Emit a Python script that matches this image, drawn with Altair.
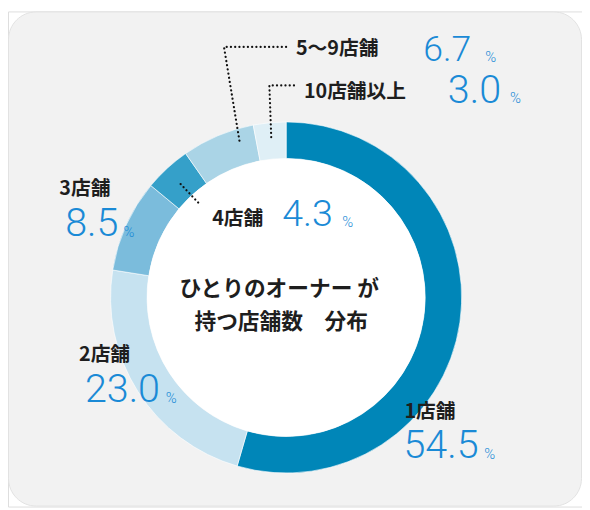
import math
import altair as alt
import pandas as pd

# ---- data ----
categories = ["1店舗", "2店舗", "3店舗", "4店舗", "5〜9店舗", "10店舗以上"]
shares = [54.5, 23.0, 8.5, 4.3, 6.7, 3.0]
colors = ["#0086b8", "#c6e2f0", "#7bbcdc", "#35a0c9", "#aad4e6", "#dfeff6"]
center_title = ["ひとりのオーナー が", "持つ店舗数　分布"]

# ---- layout (svg pixel positions, page minus 8px margin) ----
W, H = 582, 502
CX, CY = 282, 290
R_OUT, R_IN = 178, 141
label_pos = [(402, 406), (72, 348), (52, 180), (207, 211), (292, 38), (300, 82)]
num_pos = [(401, 441), (78, 384), (58, 216), (278, 207), (421, 39), (446, 81)]
num_size = [40, 40, 40, 38, 36, 40]
pct_pos = [(483, 449), (160, 392), (117, 224), (339, 214), (484, 46), (509, 88)]
leaders = [
    [(282, 36), (219, 36), (235, 133)],   # 5〜9店舗
    [(290, 75), (265, 75), (267, 130)],   # 10店舗以上
    [(175, 175), (194, 195)],             # 4店舗
]
title_pos = [(275, 282), (277, 315)]

pie_df = pd.DataFrame({"cat": categories, "share": shares, "idx": list(range(len(categories)))})

ann_rows = []
for i, c in enumerate(categories):
    ann_rows.append({"px": label_pos[i][0], "py": label_pos[i][1], "t": c, "kind": "label", "fs": 20})
    ann_rows.append({"px": num_pos[i][0], "py": num_pos[i][1], "t": f"{shares[i]:.1f}", "kind": "num", "fs": num_size[i]})
    ann_rows.append({"px": pct_pos[i][0], "py": pct_pos[i][1], "t": "%", "kind": "pct", "fs": 15})
ann_df = pd.DataFrame(ann_rows)

lead_rows = []
for g, pts in enumerate(leaders):
    for k, (x, y) in enumerate(pts):
        lead_rows.append({"g": g, "k": k, "px": x, "py": y})
lead_df = pd.DataFrame(lead_rows)

title_df = pd.DataFrame({"t": center_title, "px": [p[0] for p in title_pos], "py": [p[1] for p in title_pos]})

one = pd.DataFrame({"v": [1]})

bg = alt.Chart(one).mark_rect(cornerRadius=28, fill="#f2f2f2", stroke="#e2e2e2", strokeWidth=1).encode(
    x=alt.value(0.5), x2=alt.value(W - 0.5), y=alt.value(0.5), y2=alt.value(H - 0.5)
)

ring = alt.Chart(pie_df).mark_arc(radius=R_OUT, radius2=R_IN, stroke="#ffffff", strokeWidth=0.6).encode(
    theta=alt.Theta("share:Q", stack=True),
    order=alt.Order("idx:Q"),
    color=alt.Color("cat:N", scale=alt.Scale(domain=categories, range=colors), legend=None),
    x=alt.value(CX),
    y=alt.value(CY),
)

hole = alt.Chart(one).mark_arc(radius=R_IN, fill="#ffffff").encode(
    theta=alt.value(0), theta2=alt.value(2 * math.pi), x=alt.value(CX), y=alt.value(CY)
)

lines = alt.Chart(lead_df).mark_line(
    color="#111111", strokeWidth=2.2, strokeDash=[0.1, 4.2], strokeCap="round"
).encode(
    x=alt.X("px:Q", scale=None), y=alt.Y("py:Q", scale=None), detail="g:N", order="k:Q"
)

labels = alt.Chart(ann_df).transform_filter(alt.datum.kind == "label").mark_text(
    align="left", baseline="middle", font="Noto Sans CJK JP", fontWeight="bold", color="#1e1e1e"
).encode(
    x=alt.X("px:Q", scale=None), y=alt.Y("py:Q", scale=None), text="t:N",
    size=alt.Size("fs:Q", scale=None, legend=None)
)

nums = alt.Chart(ann_df).transform_filter(alt.datum.kind == "num").mark_text(
    align="left", baseline="middle", font="Roboto", fontWeight=300, color="#1a8ad6"
).encode(
    x=alt.X("px:Q", scale=None), y=alt.Y("py:Q", scale=None), text="t:N",
    size=alt.Size("fs:Q", scale=None, legend=None)
)

pcts = alt.Chart(ann_df).transform_filter(alt.datum.kind == "pct").mark_text(
    align="left", baseline="middle", font="Roboto", fontWeight=300, color="#1a8ad6"
).encode(
    x=alt.X("px:Q", scale=None), y=alt.Y("py:Q", scale=None), text="t:N",
    size=alt.Size("fs:Q", scale=None, legend=None)
)

title = alt.Chart(title_df).mark_text(
    align="center", baseline="middle", font="Noto Sans CJK JP", fontWeight="bold", fontSize=22, color="#1e1e1e"
).encode(x=alt.X("px:Q", scale=None), y=alt.Y("py:Q", scale=None), text="t:N")

chart = alt.layer(bg, ring, hole, lines, labels, nums, pcts, title).properties(
    width=W, height=H, autosize=alt.AutoSizeParams(type="none"), padding=0
).configure_view(stroke=None).configure(background="#ffffff")

chart.save("out.html", embed_options={"renderer": "svg", "actions": False})
